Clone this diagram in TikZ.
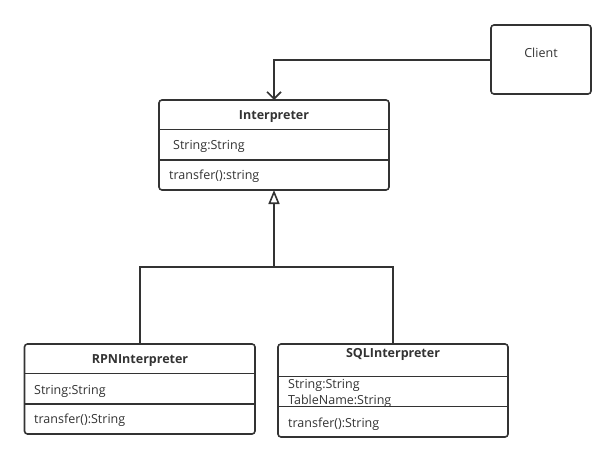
\documentclass[tikz,border=0pt]{standalone}
\usepackage{fontspec}
\setmainfont{Open Sans}
\usetikzlibrary{arrows.meta}
\definecolor{ink}{HTML}{333333}
\begin{document}
\begin{tikzpicture}[x=1pt,y=-1pt,
  box/.style={draw=ink,line width=1.6pt,rounded corners=3pt},
  sep/.style={draw=ink,line width=1.6pt},
  lbl/.style={text=ink,font=\fontsize{12.5}{15}\selectfont,inner sep=0pt},
  ttl/.style={text=ink,font=\fontsize{12.5}{15}\selectfont\bfseries,inner sep=0pt},
  conn/.style={draw=ink,line width=1.6pt}]
\useasboundingbox (0,0) rectangle (616,463);
% Client
\draw[box] (491,25) rectangle (591,94);
\node[lbl] (client) at (541,53) {Client};
\coordinate (clientL) at (491,60);
% Interpreter
\draw[box] (159,100) rectangle (389,190);
\draw[sep] (159,129.5) -- (389,129.5);
\draw[sep] (159,160) -- (389,160);
\node[ttl] (interp) at (274,116.5) {Interpreter};
\node[lbl,anchor=west] (iattr) at (173,146.5) {String:String};
\node[lbl,anchor=west] (imeth) at (169,176) {transfer():string};
\coordinate (itop) at (274,100);
\coordinate (ibot) at (274,190);
% RPN
\draw[box] (24.5,344) rectangle (255,434);
\draw[sep] (24.5,373.5) -- (255,373.5);
\draw[sep] (24.5,404) -- (255,404);
\node[ttl] (rpn) at (140,360.5) {RPNInterpreter};
\node[lbl,anchor=west] (rattr) at (34,391) {String:String};
\node[lbl,anchor=west] (rmeth) at (34,420.5) {transfer():String};
\coordinate (rtop) at (140,344);
% SQL
\draw[box] (278,344) rectangle (508,437);
\draw[sep] (278,376.5) -- (508,376.5);
\draw[sep] (278,406.5) -- (508,406.5);
\node[ttl] (sql) at (393,354) {SQLInterpreter};
\node[lbl,anchor=west] (sattr1) at (288,385.5) {String:String};
\node[lbl,anchor=west] (sattr2) at (288,401) {TableName:String};
\node[lbl,anchor=west] (smeth) at (288,424) {transfer():String};
\coordinate (stop) at (393,344);
% connectors
\draw[conn,-{Straight Barb[length=7pt,width=14pt,line width=1.6pt]}] (clientL) -| (itop);
\coordinate (junc) at (274,267);
\draw[conn,-{Triangle[open,length=14pt,width=11pt,line width=1.6pt]}] (junc) -- (ibot);
\draw[conn] (rtop) |- (junc) -| (stop);
\end{tikzpicture}
\end{document}
